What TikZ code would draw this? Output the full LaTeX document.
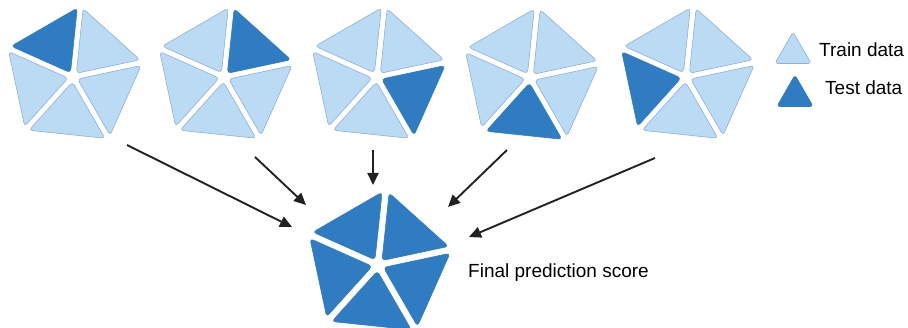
\documentclass[tikz,border=0pt]{standalone}
\usepackage{fontspec}
\setmainfont{Liberation Sans}
\usetikzlibrary{arrows.meta, shapes.geometric, positioning}
\definecolor{trainblue}{HTML}{BBDBF4}
\definecolor{trainedge}{HTML}{8FAEDC}
\definecolor{testblue}{HTML}{2F7CC2}
\definecolor{arrowgray}{HTML}{222222}

% #1 centre, #2 radius, #3 gap, #4 test sector (5 = all)
\newcommand{\penta}[4]{%
\begin{scope}[shift={(#1)}]
\foreach \k in {0,...,4}{
  \pgfmathsetmacro{\a}{156-72*\k}
  \pgfmathsetmacro{\b}{\a-36}
  \pgfmathsetmacro{\c}{\a-72}
  \pgfmathtruncatemacro{\isdark}{(\k==#4)||(#4==5)}
  \ifnum\isdark=1 \def\sty{testtri}\else\def\sty{traintri}\fi
  \draw[\sty] (\b:#3) -- ([shift={(\b:#3)}]\a:#2) -- ([shift={(\b:#3)}]\c:#2) -- cycle;
}
\end{scope}}

\begin{document}
\begin{tikzpicture}[x=1pt, y=1pt,
  traintri/.style = {fill=trainblue, draw=trainedge, line width=0.6pt, rounded corners=3.5pt, line join=round},
  testtri/.style = {fill=testblue, draw=testblue, line width=0.6pt, rounded corners=3.5pt, line join=round},
  arr/.style = {draw=arrowgray, line width=1.9pt, -{Triangle[length=12pt, width=11pt]}},
  legtri/.style = {regular polygon, regular polygon sides=3, minimum size=42pt, inner sep=0pt, rounded corners=3pt, line width=0.6pt},
  lbl/.style = {anchor=base west, inner sep=0pt, font=\fontsize{19}{22}\selectfont, text=black}]
\useasboundingbox (0,0) rectangle (908,327);

\coordinate (p1) at (73,250);
\coordinate (p2) at (224,250);
\coordinate (p3) at (377,250);
\coordinate (p4) at (530,249);
\coordinate (p5) at (686,250);
\coordinate (f) at (378,62);

\penta{p1}{65}{5}{0}
\penta{p2}{65}{5}{1}
\penta{p3}{65}{5}{2}
\penta{p4}{65}{5}{3}
\penta{p5}{65}{5}{4}
\penta{f}{68}{6}{5}

\node[legtri, fill=trainblue, draw=trainedge] (train) at (793,274) {};
\node[legtri, fill=testblue, draw=testblue] (test) at (795,231) {};
\node[lbl] (trainlbl) at (819,270) {Train data};
\node[lbl] (testlbl) at (825,232) {Test data};
\node[lbl] (final) at (468,50) {Final prediction score};

\coordinate (t1) at (127,182);
\coordinate (t2) at (255,170);
\coordinate (t3) at (373,177);
\coordinate (t4) at (507,177);
\coordinate (t5) at (655,169);
\coordinate (h1) at (292,100);
\coordinate (h2) at (306,122);
\coordinate (h3) at (373,142);
\coordinate (h4) at (448,120);
\coordinate (h5) at (469,90);

\draw[arr] (t1) -- (h1);
\draw[arr] (t2) -- (h2);
\draw[arr] (t3) -- (h3);
\draw[arr] (t4) -- (h4);
\draw[arr] (t5) -- (h5);
\end{tikzpicture}
\end{document}
